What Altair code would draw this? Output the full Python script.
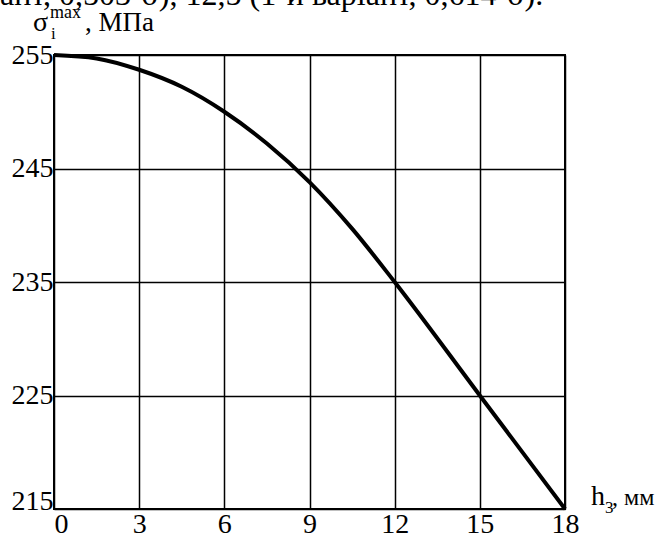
import altair as alt
import pandas as pd

# Maximum equivalent stress vs. thickness h3
h3 = [0, 1.5, 3, 4.5, 6, 7.5, 9, 10.5, 12, 15, 18]
sigma = [255.0, 254.7, 253.7, 252.2, 250.0, 247.2, 243.8, 239.7, 235.0, 225.0, 215.0]

x_ticks = [0, 3, 6, 9, 12, 15, 18]
y_ticks = [215, 225, 235, 245, 255]

FONT = "Liberation Serif"

df = pd.DataFrame({"h3": h3, "sigma": sigma})

x_scale = alt.Scale(domain=[0, 18], nice=False, zero=False)
y_scale = alt.Scale(domain=[215, 255], nice=False, zero=False)

curve = alt.Chart(df).mark_line(
    color="black", strokeWidth=4, interpolate="monotone"
).encode(
    x=alt.X("h3:Q", scale=x_scale, title=None,
            axis=alt.Axis(values=x_ticks, grid=True, ticks=False, domain=False,
                          labelFont=FONT, labelFontSize=28, labelColor="black",
                          labelPadding=1,
                          labelAlign=alt.expr("datum.value == 0 ? 'left' : 'center'"),
                          gridColor="black", gridWidth=1.5, gridOpacity=1)),
    y=alt.Y("sigma:Q", scale=y_scale, title=None,
            axis=alt.Axis(values=y_ticks, grid=True, ticks=False, domain=False,
                          labelFont=FONT, labelFontSize=28, labelColor="black",
                          labelPadding=1,
                          labelBaseline=alt.expr("datum.value == 215 ? 'alphabetic' : 'middle'"),
                          gridColor="black", gridWidth=1.5, gridOpacity=1)),
)


def label(text, x, y, size=26, baseline="alphabetic", align="left"):
    return alt.Chart(alt.Data(values=[{"t": text}])).mark_text(
        font=FONT, fontSize=size, color="black", align=align, baseline=baseline
    ).encode(x=alt.value(x), y=alt.value(y), text="t:N")


# Plot-area origin sits at (54, 55) on the page
ox, oy = 54, 55
annotations = [
    # tail of the preceding text line
    label("ант, 0,503·σ), 12,5 (1-й варіант, 0,614·σ).", 0 - ox, 5 - oy, size=32),
    # y-axis title: σ_i^max, МПа
    label("σ", 33 - ox, 31 - oy, size=28),
    label("max", 50 - ox, 18 - oy, size=18),
    label("i", 51 - ox, 39 - oy, size=17),
    label(", МПа", 85 - ox, 31 - oy, size=27),
    # x-axis title: h₃, мм
    label("h", 591 - ox, 505 - oy, size=28),
    label("3", 605 - ox, 513 - oy, size=17),
    label(", мм", 612 - ox, 505 - oy, size=24),
]

chart = alt.layer(curve, *annotations).properties(
    width=511,
    height=454,
    autosize=alt.AutoSizeParams(type="none"),
    padding={"left": 54, "top": 55, "right": 104, "bottom": 27},
    background="white",
).configure_view(
    stroke="black", strokeWidth=2
)

chart.save("out.html", embed_options={"renderer": "svg", "actions": False})
